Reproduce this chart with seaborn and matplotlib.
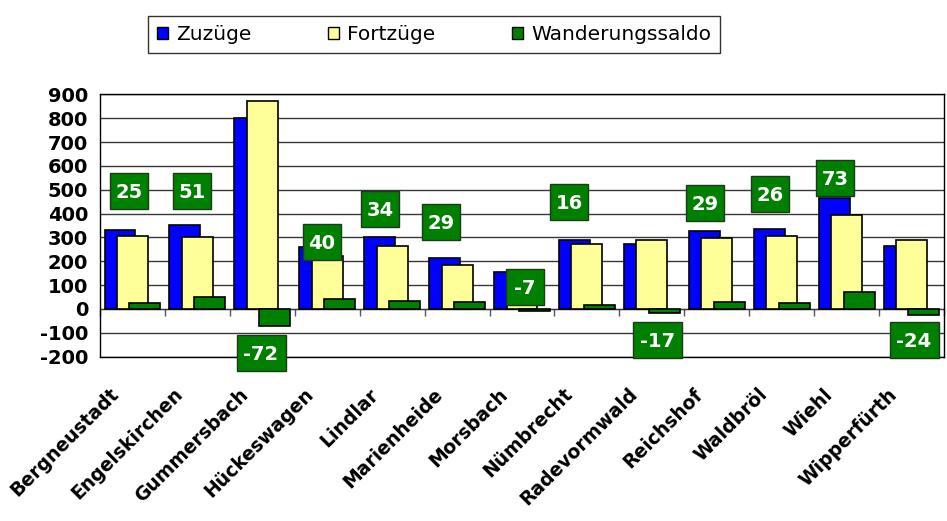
import numpy as np
import pandas as pd
import seaborn as sns
from matplotlib import pyplot as plt
from matplotlib.patches import Patch, Rectangle
from matplotlib import transforms

# Daten
gemeinden = ["Bergneustadt", "Engelskirchen", "Gummersbach", "Hückeswagen", "Lindlar",
             "Marienheide", "Morsbach", "Nümbrecht", "Radevormwald", "Reichshof",
             "Waldbröl", "Wiehl", "Wipperfürth"]
zuzuege = [333, 352, 800, 261, 300, 213, 153, 288, 273, 327, 334, 466, 266]
fortzuege = [308, 301, 872, 221, 266, 184, 160, 272, 290, 298, 308, 393, 290]
saldo = [25, 51, -72, 40, 34, 29, -7, 16, -17, 29, 26, 73, -24]
reihen = ["Zuzüge", "Fortzüge", "Wanderungssaldo"]
farben = ["#0000FF", "#FFFF99", "#008000"]

df = pd.DataFrame({
    "Gemeinde": gemeinden * 3,
    "Reihe": [reihen[0]] * 13 + [reihen[1]] * 13 + [reihen[2]] * 13,
    "Wert": zuzuege + fortzuege + saldo,
})

sns.set_style("white")
plt.rcParams["font.family"] = ["DejaVu Sans"]
plt.rcParams["axes.unicode_minus"] = False
plt.rcParams["text.color"] = "black"
plt.rcParams["xtick.color"] = "black"
plt.rcParams["ytick.color"] = "black"

fig = plt.figure(figsize=(9.47, 5.21), dpi=100)
ax = fig.add_axes([0.1056, 0.3154, 0.8912, 0.5036])

sns.barplot(data=df, x="Gemeinde", y="Wert", hue="Reihe", order=gemeinden,
            hue_order=reihen, palette=farben, saturation=1, width=0.576,
            edgecolor="black", linewidth=1.2, legend=False, ax=ax, zorder=3)

# Balken ueberlappen lassen (wie Excel)
bar_w = 0.477
for p in ax.patches:
    cx = p.get_x() + p.get_width() / 2
    p.set_width(bar_w)
    p.set_x(cx - bar_w / 2)

ax.set_ylim(-200, 900)
ax.set_xlim(-0.5, len(gemeinden) - 0.5)
ax.set_yticks(np.arange(-200, 901, 100))
ax.yaxis.grid(True, color="#383838", linewidth=1)
ax.set_axisbelow(True)
ax.set_xlabel("")
ax.set_ylabel("")

for s in ax.spines.values():
    s.set_color("black")
    s.set_linewidth(1)

ax.tick_params(axis="y", length=5, width=1, color="black", direction="out",
               labelsize=14, labelcolor="black")
for t in ax.get_yticklabels():
    t.set_fontweight("bold")

ax.tick_params(axis="x", length=0, pad=25, labelcolor="black")
ax.set_xticks(range(len(gemeinden)))
ax.set_xticklabels(gemeinden, rotation=45, ha="right", va="center",
                   rotation_mode="anchor", fontsize=13.5, fontweight="bold")
shift = transforms.ScaledTranslation(-17 / 100, 0, fig.dpi_scale_trans)
for t in ax.get_xticklabels():
    t.set_transform(t.get_transform() + shift)

# Achse bei Null mit Trennstrichen
sec = ax.secondary_xaxis(200 / 1100)
sec.set_xticks(np.arange(-0.5, len(gemeinden), 1))
sec.set_xticklabels([])
sec.tick_params(length=5, width=1, color="#555555", direction="out")
sec.spines["bottom"].set_color("black")

# Datenbeschriftungen Wanderungssaldo
label_y = [495, 495, -183, 282, 420, 366, 93, 450, -128, 445, 483, 550, -128]
label_dx = [-0.05, -0.085, -0.02, -0.085, -0.18, -0.24, 0.04, -0.27, 0.085,
            -0.18, -0.18, -0.18, 0.04]
for i, v in enumerate(saldo):
    x, y = i + label_dx[i], label_y[i]
    txt = f"{v}"
    w = (38 if len(txt) == 2 else 49) / 100
    h = 36 / 100
    tr = fig.dpi_scale_trans + transforms.ScaledTranslation(x, y, ax.transData)
    ax.add_patch(Rectangle((-w / 2, -h / 2), w, h, transform=tr, fc="#008000",
                           ec="#1a3a1a", lw=1, zorder=5, clip_on=False))
    ax.text(x, y, txt, ha="center", va="center_baseline", color="white",
            fontsize=14, fontweight="bold", zorder=6)

# Legende
handles = [Patch(facecolor=c, edgecolor="black", label=r) for c, r in zip(farben, reihen)]
leg = fig.legend(handles=handles, loc="upper left", ncol=3,
                 bbox_to_anchor=(148 / 947, 1 - 16 / 521),
                 fontsize=14.5, frameon=True, fancybox=False, handlelength=0.55,
                 handleheight=0.55, handletextpad=0.4, columnspacing=3.8,
                 borderpad=0.45, borderaxespad=0)
leg.get_frame().set_edgecolor("black")
leg.get_frame().set_linewidth(1)

fig.savefig("out.png", dpi=100)
